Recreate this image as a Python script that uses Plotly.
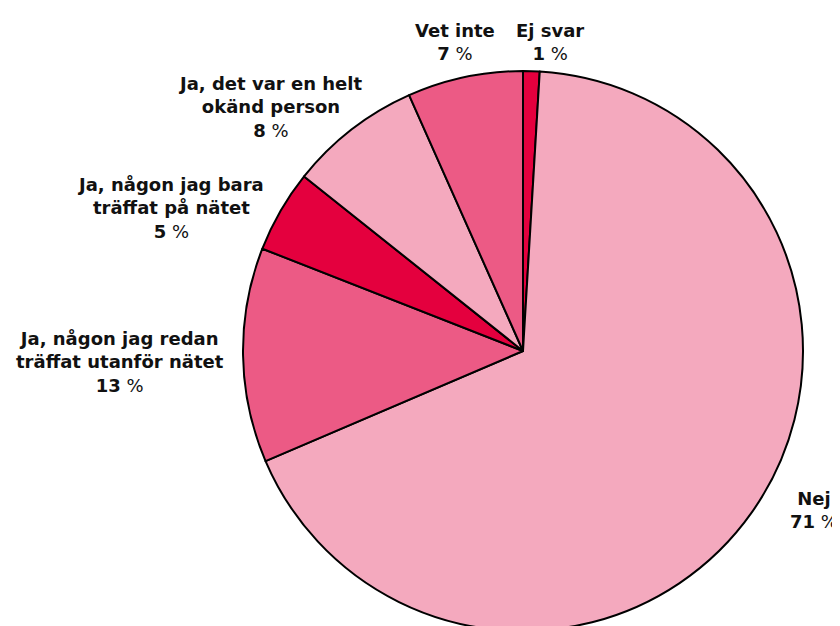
import plotly.graph_objects as go

labels = ["Ej svar", "Nej", "Ja, någon jag redan<br>träffat utanför nätet",
          "Ja, någon jag bara<br>träffat på nätet", "Ja, det var en helt<br>okänd person", "Vet inte"]
values = [1, 71, 13, 5, 8, 7]
colors = ["#E4003E", "#F4A9BE", "#EC5A85", "#E4003E", "#F4A9BE", "#EC5A85"]

W, H = 840, 626
OFF = 8  # default page body margin
# label anchor positions (window pixels) for each slice label
label_pos = [(550, 42), (814, 510), (120, 362), (170, 208), (270, 107), (455, 42)]

fig = go.Figure()
cx, cy, r = 523 - OFF, 351 - OFF, 280
fig.add_trace(go.Pie(
    labels=labels, values=values, sort=False, direction="clockwise", rotation=0,
    marker=dict(colors=colors, line=dict(color="#000000", width=2)),
    textinfo="none", hoverinfo="label+percent", showlegend=False,
    domain=dict(x=[(cx - r) / W, (cx + r) / W], y=[(H - cy - r) / H, (H - cy + r) / H]),
))

for lab, v, (px, py) in zip(labels, values, label_pos):
    fig.add_annotation(
        x=(px - OFF) / W, y=1 - (py - OFF) / H, xref="paper", yref="paper", showarrow=False,
        text=f"<b>{lab}</b><br><b>{v}</b> %", align="center",
        font=dict(family="DejaVu Sans, sans-serif", size=18, color="#111111"),
        xanchor="center", yanchor="middle",
    )

fig.update_layout(width=W, height=H, margin=dict(l=0, r=0, t=0, b=0),
                  paper_bgcolor="white", plot_bgcolor="white")
fig.write_html("out.html")
